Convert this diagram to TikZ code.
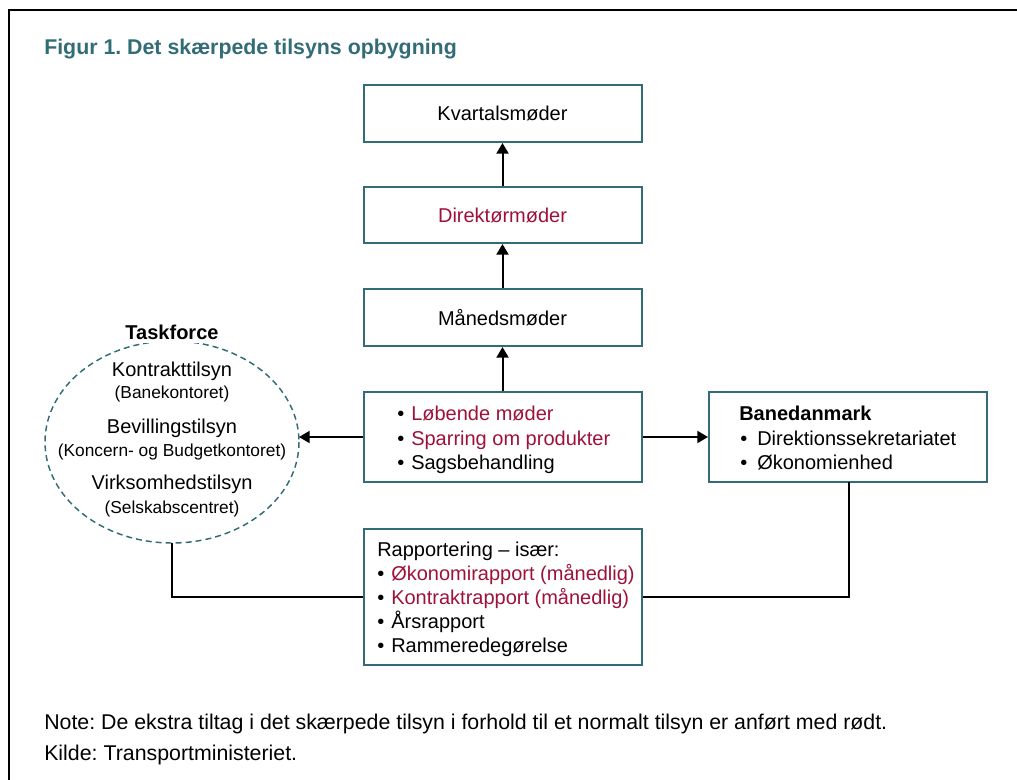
\documentclass[tikz,border=0pt]{standalone}
\usepackage{fontspec}
\setmainfont{Liberation Sans}
\usetikzlibrary{arrows.meta}
\frenchspacing
\definecolor{teal1}{RGB}{50,108,118}
\definecolor{red1}{RGB}{158,18,58}
\tikzset{
  box/.style={draw=teal1, line width=1.5pt, fill=white, minimum width=208.5pt, inner sep=0pt},
  boxtxt/.style={font=\fontsize{15}{18}\selectfont, inner sep=0pt, anchor=base west},
  ctxt/.style={font=\fontsize{15}{18}\selectfont, inner sep=0pt, anchor=base},
  stxt/.style={font=\fontsize{13}{16}\selectfont, inner sep=0pt, anchor=base},
  arr/.style={line width=1.5pt, -{Triangle[width=9pt,length=8pt]}},
  conn/.style={line width=1.1pt},
  redt/.style={text=red1}
}
\begin{document}
\begin{tikzpicture}[x=0.75pt,y=-0.75pt]
\useasboundingbox (0,0) rectangle (1017,780);
% outer frame
\draw[line width=2.2pt] (9,800) -- (9,10) -- (1040,10);
% title
\node[anchor=base west, inner sep=0pt, text=teal1, font=\fontsize{16}{19}\selectfont\bfseries] (title) at (44,55) {Figur 1. Det skærpede tilsyns opbygning};
% vertical chain
\node[box, minimum height=42.75pt, font=\fontsize{15}{18}\selectfont] (kv) at (502.5,113.5) {Kvartalsmøder};
\node[box, minimum height=42pt, font=\fontsize{15}{18}\selectfont, text=red1] (dir) at (502.5,215) {Direktørmøder};
\node[box, minimum height=42.75pt, font=\fontsize{15}{18}\selectfont] (mm) at (502.5,317.5) {Månedsmøder};
% middle box
\node[box, minimum height=68pt] (mid) at (502.5,437) {};
\node[boxtxt] (m1b) at (397,421) {•};
\node[boxtxt, redt] (m1) at (411,421) {Løbende møder};
\node[boxtxt] (m2b) at (397,445.5) {•};
\node[boxtxt, redt] (m2) at (411,445.5) {Sparring om produkter};
\node[boxtxt] (m3b) at (397,469.5) {•};
\node[boxtxt] (m3) at (411,469.5) {Sagsbehandling};
% Banedanmark
\node[box, minimum height=68pt] (bd) at (848,437) {};
\node[boxtxt, font=\fontsize{15}{18}\selectfont\bfseries] (bdt) at (739,421) {Banedanmark};
\node[boxtxt] (b1b) at (740,445.5) {•};
\node[boxtxt] (b1) at (757,445.5) {Direktionssekretariatet};
\node[boxtxt] (b2b) at (740,469.5) {•};
\node[boxtxt] (b2) at (757,469.5) {Økonomienhed};
% Rapportering box
\node[box, minimum height=102pt] (rap) at (502.5,597) {};
\node[boxtxt] (r0) at (377,556.5) {Rapportering – især:};
\node[boxtxt] (r1b) at (377,580.5) {•};
\node[boxtxt, redt] (r1) at (391,580.5) {Økonomirapport (månedlig)};
\node[boxtxt] (r2b) at (377,604.5) {•};
\node[boxtxt, redt] (r2) at (391,604.5) {Kontraktrapport (månedlig)};
\node[boxtxt] (r3b) at (377,628) {•};
\node[boxtxt] (r3) at (391,628) {Årsrapport};
\node[boxtxt] (r4b) at (377,652) {•};
\node[boxtxt] (r4) at (391,652) {Rammeredegørelse};
% Taskforce ellipse
\draw[draw=teal1, line width=1.1pt, dash pattern=on 4.5pt off 3pt] (172,442) ellipse [x radius=127, y radius=101];
\coordinate (tfr) at (299,437);
\coordinate (tfb) at (172,543);
\node[anchor=base, fill=white, inner xsep=5pt, inner ysep=2pt, font=\fontsize{15}{18}\selectfont\bfseries] (tf) at (172,340) {Taskforce};
\node[ctxt] (t1) at (172,377) {Kontrakttilsyn};
\node[stxt] (t1s) at (172,398.5) {(Banekontoret)};
\node[ctxt] (t2) at (172,433) {Bevillingstilsyn};
\node[stxt] (t2s) at (172,456) {(Koncern- og Budgetkontoret)};
\node[ctxt] (t3) at (172,489) {Virksomhedstilsyn};
\node[stxt] (t3s) at (172,513) {(Selskabscentret)};
% arrows
\draw[arr] (mm.north) -- (dir.south);
\draw[arr] (dir.north) -- (kv.south);
\draw[arr] (mid.north) -- (mm.south);
\draw[arr] (mid.east) -- (bd.west);
\draw[arr] (mid.west) -- (tfr);
% connectors
\draw[conn] (tfb) -- (tfb |- rap.west) -- (rap.west);
\coordinate (bdb) at (849,482);
\draw[conn] (rap.east) -- (bdb |- rap.east) -- (bdb);
% note
\node[anchor=base west, inner sep=0pt, font=\fontsize{16}{19}\selectfont] (note) at (44,729) {Note: De ekstra tiltag i det skærpede tilsyn i forhold til et normalt tilsyn er anført med rødt.};
\node[anchor=base west, inner sep=0pt, font=\fontsize{16}{19}\selectfont] (kilde) at (44,760.5) {Kilde: Transportministeriet.};
\end{tikzpicture}
\end{document}
